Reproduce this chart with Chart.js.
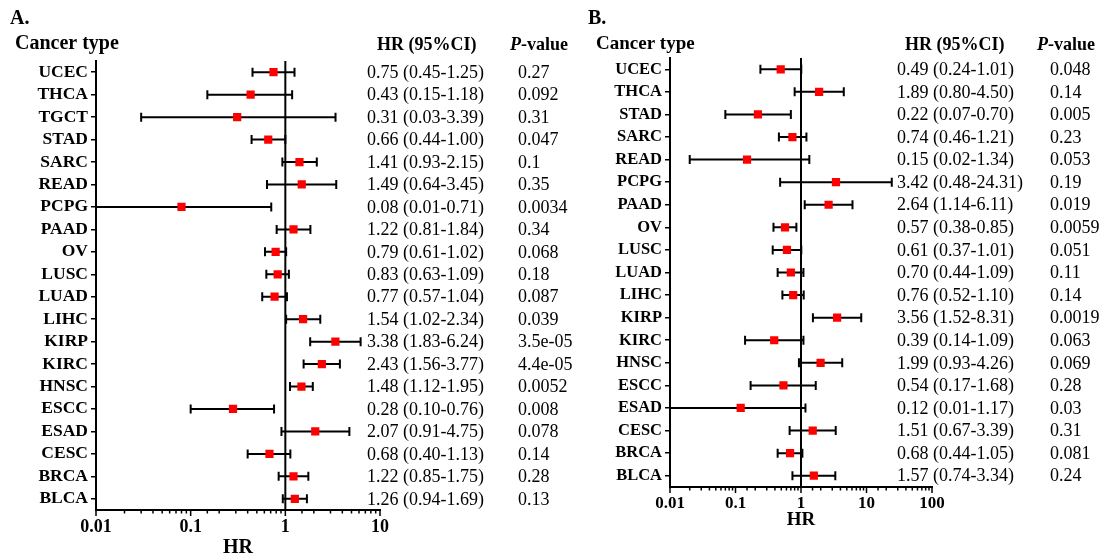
<!DOCTYPE html>
<html>
<head>
<meta charset="utf-8">
<script src="https://cdn.jsdelivr.net/npm/chart.js@4.4.1/dist/chart.umd.min.js"></script>
<style>
  body { margin: 0; background: #fff; }
  #wrap { position: relative; width: 1106px; height: 560px; }
  canvas { position: absolute; top: 0; }
  #chartA { left: 0; }
  #chartB { left: 580px; }
</style>
</head>
<body>
<div id="wrap">
  <canvas id="chartA" width="580" height="560"></canvas>
  <canvas id="chartB" width="526" height="560"></canvas>
</div>
<script>
// panel A
const catsA = ["UCEC", "THCA", "TGCT", "STAD", "SARC", "READ", "PCPG", "PAAD", "OV", "LUSC",
  "LUAD", "LIHC", "KIRP", "KIRC", "HNSC", "ESCC", "ESAD", "CESC", "BRCA", "BLCA"];
const hrA = [0.75, 0.43, 0.31, 0.66, 1.41, 1.49, 0.08, 1.22, 0.79, 0.83,
  0.77, 1.54, 3.38, 2.43, 1.48, 0.28, 2.07, 0.68, 1.22, 1.26];
const loA = [0.45, 0.15, 0.03, 0.44, 0.93, 0.64, 0.01, 0.81, 0.61, 0.63,
  0.57, 1.02, 1.83, 1.56, 1.12, 0.10, 0.91, 0.40, 0.85, 0.94];
const hiA = [1.25, 1.18, 3.39, 1.00, 2.15, 3.45, 0.71, 1.84, 1.02, 1.09,
  1.04, 2.34, 6.24, 3.77, 1.95, 0.76, 4.75, 1.13, 1.75, 1.69];
const pA = ["0.27", "0.092", "0.31", "0.047", "0.1", "0.35", "0.0034", "0.34", "0.068", "0.18",
  "0.087", "0.039", "3.5e-05", "4.4e-05", "0.0052", "0.008", "0.078", "0.14", "0.28", "0.13"];

// panel B
const catsB = ["UCEC", "THCA", "STAD", "SARC", "READ", "PCPG", "PAAD", "OV", "LUSC", "LUAD",
  "LIHC", "KIRP", "KIRC", "HNSC", "ESCC", "ESAD", "CESC", "BRCA", "BLCA"];
const hrB = [0.49, 1.89, 0.22, 0.74, 0.15, 3.42, 2.64, 0.57, 0.61, 0.70,
  0.76, 3.56, 0.39, 1.99, 0.54, 0.12, 1.51, 0.68, 1.57];
const loB = [0.24, 0.80, 0.07, 0.46, 0.02, 0.48, 1.14, 0.38, 0.37, 0.44,
  0.52, 1.52, 0.14, 0.93, 0.17, 0.01, 0.67, 0.44, 0.74];
const hiB = [1.01, 4.50, 0.70, 1.21, 1.34, 24.31, 6.11, 0.85, 1.01, 1.09,
  1.10, 8.31, 1.09, 4.26, 1.68, 1.17, 3.39, 1.05, 3.34];
const pB = ["0.048", "0.14", "0.005", "0.23", "0.053", "0.19", "0.019", "0.0059", "0.051", "0.11",
  "0.14", "0.0019", "0.063", "0.069", "0.28", "0.03", "0.31", "0.081", "0.24"];

const SERIF = '"Liberation Serif", "Times New Roman", serif';

const isPow10 = (v) => {
  const e = Math.log10(v);
  return Math.abs(e - Math.round(e)) < 1e-6;
};

const forestPlugin = (cfg) => ({
  id: "forest",
  beforeDatasetsDraw(chart) {
    const ctx = chart.ctx;
    const xs = chart.scales.x, ys = chart.scales.y;
    const area = chart.chartArea;
    ctx.save();
    ctx.strokeStyle = "#000";
    ctx.lineWidth = 2;
    // reference line at HR = 1
    const x1 = xs.getPixelForValue(1);
    ctx.beginPath();
    ctx.moveTo(x1, area.top);
    ctx.lineTo(x1, area.bottom);
    ctx.stroke();
    // confidence intervals
    cfg.cats.forEach((c, i) => {
      const y = ys.getPixelForValue(i);
      const a = Math.max(xs.getPixelForValue(cfg.lo[i]), area.left);
      const b = Math.min(xs.getPixelForValue(cfg.hi[i]), area.right);
      ctx.beginPath();
      ctx.moveTo(a, y);
      ctx.lineTo(b, y);
      ctx.moveTo(a, y - 4.5);
      ctx.lineTo(a, y + 4.5);
      ctx.moveTo(b, y - 4.5);
      ctx.lineTo(b, y + 4.5);
      ctx.stroke();
    });
    ctx.restore();
  },
  afterDraw(chart) {
    const ctx = chart.ctx;
    const xs = chart.scales.x, ys = chart.scales.y;
    const area = chart.chartArea;
    ctx.save();
    // x tick marks, long for decades, short otherwise
    ctx.strokeStyle = "#000";
    ctx.lineWidth = 1.5;
    xs.ticks.forEach((t) => {
      const x = xs.getPixelForValue(t.value);
      const len = isPow10(t.value) ? 6 : 3.5;
      ctx.beginPath();
      ctx.moveTo(x, area.bottom);
      ctx.lineTo(x, area.bottom + len);
      ctx.stroke();
    });

    ctx.fillStyle = "#000";
    ctx.textBaseline = "middle";
    ctx.textAlign = "left";

    ctx.font = "bold 20px " + SERIF;
    ctx.fillText(cfg.letter, cfg.letterX, 19);
    ctx.font = "bold " + cfg.headSize + "px " + SERIF;
    ctx.fillText("Cancer type", cfg.typeX, 44);

    ctx.font = "bold 18px " + SERIF;
    ctx.fillText("HR (95%CI)", cfg.hrHeadX, 45);
    ctx.font = "italic bold 18px " + SERIF;
    ctx.fillText("P", cfg.pHeadX, 45);
    const pw = ctx.measureText("P").width;
    ctx.font = "bold 18px " + SERIF;
    ctx.fillText("-value", cfg.pHeadX + pw, 45);

    ctx.font = "18px " + SERIF;
    cfg.cats.forEach((c, i) => {
      const y = ys.getPixelForValue(i) + 1;
      const txt = cfg.hr[i].toFixed(2) + " (" + cfg.lo[i].toFixed(2) + "-" + cfg.hi[i].toFixed(2) + ")";
      ctx.fillText(txt, cfg.hrX, y);
      ctx.fillText(cfg.p[i], cfg.pX, y);
    });

    ctx.textAlign = "center";
    ctx.font = "bold " + cfg.titleSize + "px " + SERIF;
    ctx.fillText("HR", (area.left + area.right) / 2, area.bottom + cfg.titleOff);
    ctx.restore();
  },
});

const drawForest = (id, cfg) => {
  const points = cfg.cats.map((c, i) => ({ x: cfg.hr[i], y: c }));
  new Chart(document.getElementById(id), {
    type: "scatter",
    data: {
      labels: cfg.cats,
      datasets: [{
        data: points,
        pointStyle: "rect",
        pointRadius: 5.8,
        pointHoverRadius: 5.8,
        backgroundColor: "#ff0000",
        borderWidth: 0,
      }],
    },
    options: {
      responsive: false,
      animation: false,
      events: [],
      layout: { padding: { top: cfg.top, right: cfg.right, left: 0, bottom: 0 } },
      plugins: { legend: { display: false }, tooltip: { enabled: false } },
      scales: {
        x: {
          type: "logarithmic",
          min: 0.01,
          max: cfg.max,
          afterFit: (s) => { s.height = cfg.xh; },
          grid: { display: true, drawOnChartArea: false, color: "transparent", tickLength: 5 },
          border: { color: "#000", width: 2 },
          ticks: {
            autoSkip: false,
            maxRotation: 0,
            padding: cfg.tickPad,
            color: "#000",
            font: { family: SERIF, weight: "bold", size: cfg.tickSize },
            callback: (v) => {
              if (!isPow10(v)) return "";
              const e = Math.round(Math.log10(v));
              return e < 0 ? v.toFixed(-e) : String(Math.round(v));
            },
          },
        },
        y: {
          type: "category",
          labels: cfg.cats,
          offset: true,
          afterFit: (s) => { s.width = cfg.yw; },
          grid: { display: true, drawOnChartArea: false, color: "#000", lineWidth: 1.5, tickLength: 5 },
          border: { color: "#000", width: 2 },
          ticks: {
            autoSkip: false,
            padding: 3,
            color: "#000",
            font: { family: SERIF, weight: "bold", size: cfg.labelSize },
          },
        },
      },
    },
    plugins: [forestPlugin(cfg)],
  });
};

drawForest("chartA", {
  cats: catsA, hr: hrA, lo: loA, hi: hiA, p: pA,
  max: 10, top: 61, right: 200, yw: 96, xh: 50,
  tickSize: 18, tickPad: 2, labelSize: 17.5, titleSize: 20, titleOff: 38, headSize: 20,
  letter: "A.", letterX: 10, typeX: 15,
  hrHeadX: 377, pHeadX: 510, hrX: 367, pX: 518,
});

drawForest("chartB", {
  cats: catsB, hr: hrB, lo: loB, hi: hiB, p: pB,
  max: 100, top: 58, right: 174, yw: 90, xh: 73,
  tickSize: 17, tickPad: 1, labelSize: 16.5, titleSize: 19, titleOff: 33, headSize: 19,
  letter: "B.", letterX: 8, typeX: 16,
  hrHeadX: 325, pHeadX: 457, hrX: 317, pX: 470,
});
</script>
</body>
</html>
